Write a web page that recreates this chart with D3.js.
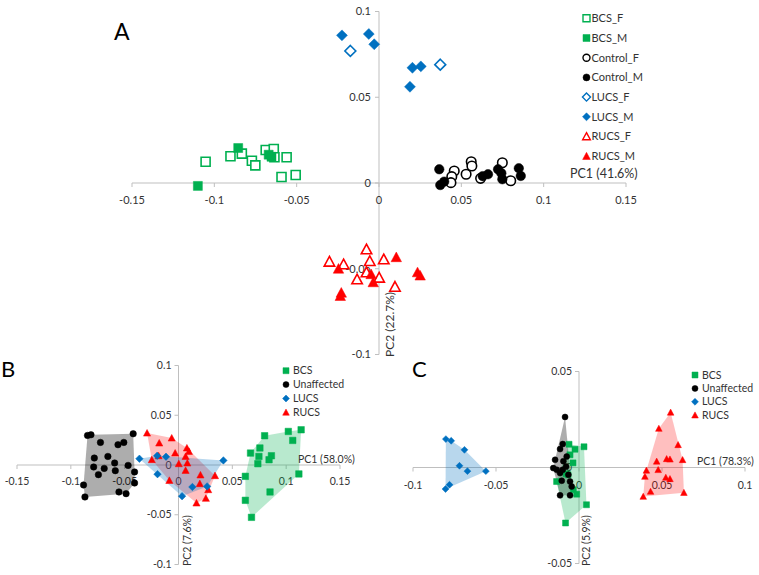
<!DOCTYPE html>
<html><head><meta charset="utf-8">
<script src="https://cdn.jsdelivr.net/npm/d3@7"></script>
<style>body{margin:0;background:#fff}svg{display:block;font-family:Lato,"Open Sans",sans-serif}</style>
</head><body><svg id="c" width="759" height="575"></svg>
<script>
// ---------- Panel A data (PC1, PC2) ----------
const A_BCS_F = [[-0.1053,0.0124],[-0.0902,0.0156],[-0.0833,0.0171],[-0.0772,0.0130],[-0.0751,0.0103],[-0.0688,0.0192],[-0.0639,0.0198],[-0.0635,0.0150],[-0.0561,0.0150],[-0.0592,0.0035],[-0.0506,0.0047]];
const A_BCS_M = [[-0.0855,0.0204],[-0.0653,0.0153],[-0.0670,0.0165],[-0.1100,-0.0017]];
const A_Control_F = [[0.0457,0.0070],[0.0442,0.0037],[0.0437,0.0002],[0.0529,0.0051],[0.0560,0.0124],[0.0564,0.0099],[0.0617,0.0027],[0.0749,0.0118],[0.0800,0.0013]];
const A_Control_M = [[0.0366,0.0080],[0.0372,-0.0012],[0.0396,0.0008],[0.0662,0.0051],[0.0630,0.0040],[0.0723,0.0080],[0.0743,0.0057],[0.0749,0.0022],[0.0849,0.0086],[0.0861,0.0041]];
const A_LUCS_F = [[-0.0174,0.0770],[0.0372,0.0690]];
const A_LUCS_M = [[-0.0225,0.0861],[-0.0062,0.0869],[-0.0029,0.0809],[0.0203,0.0672],[0.0254,0.0680],[0.0188,0.0561]];
const A_RUCS_F = [[-0.0301,-0.0459],[-0.0215,-0.0474],[-0.0076,-0.0387],[-0.0056,-0.0455],[0.0029,-0.0445],[-0.0076,-0.0521],[-0.0133,-0.0562],[0.0001,-0.0552],[0.0097,-0.0605]];
const A_RUCS_M = [[-0.0246,-0.0500],[0.0105,-0.0433],[-0.0048,-0.0532],[-0.0035,-0.0579],[0.0234,-0.0521],[0.0250,-0.0540],[-0.0229,-0.0640],[-0.0235,-0.0659]];
const A_series = ["BCS_F","BCS_M","Control_F","Control_M","LUCS_F","LUCS_M","RUCS_F","RUCS_M"];
const A_xTicks = [-0.15,-0.1,-0.05,0,0.05,0.1,0.15];
const A_yTicks = [-0.1,-0.05,0,0.05,0.1];

// ---------- Panel B data ----------
const B_BCS = [[0.0800,0.0294],[0.1020,0.0337],[0.1139,0.0354],[0.1061,0.0247],[0.0756,0.0171],[0.0669,0.0120],[0.0747,0.0086],[0.0863,0.0093],[0.0841,0.0053],[0.0737,0.0013],[0.0621,-0.0114],[0.1118,-0.0090],[0.0850,-0.0271],[0.0621,-0.0355],[0.0678,-0.0526]];
const B_Unaffected = [[-0.0845,0.0297],[-0.0813,0.0304],[-0.0725,0.0227],[-0.0562,0.0204],[-0.0508,0.0227],[-0.0421,0.0314],[-0.0782,0.0070],[-0.0656,0.0086],[-0.0788,-0.0020],[-0.0690,-0.0034],[-0.0593,0.0020],[-0.0587,-0.0057],[-0.0744,-0.0097],[-0.0468,-0.0004],[-0.0408,-0.0070],[-0.0408,-0.0181],[-0.0882,-0.0201],[-0.0869,-0.0321],[-0.0553,-0.0271],[-0.0487,-0.0288]];
const B_LUCS = [[-0.0363,0.0063],[-0.0195,-0.0092],[-0.0198,0.0093],[-0.0116,0.0083],[0.0033,-0.0313],[0.0129,-0.0221],[0.0266,-0.0215],[0.0417,0.0046]];
const B_RUCS = [[-0.0292,0.0321],[-0.0063,0.0271],[-0.0179,0.0221],[0.0078,0.0171],[0.0097,0.0137],[-0.0031,0.0120],[-0.0185,0.0093],[-0.0248,0.0053],[0.0066,0.0086],[0.0003,0.0013],[0.0082,0.0020],[0.0066,-0.0054],[-0.0085,-0.0155],[0.0204,-0.0100],[0.0198,-0.0187],[0.0339,-0.0107],[0.0276,-0.0248],[0.0167,-0.0382],[0.0254,-0.0335]];
const B_series = ["BCS","Unaffected","LUCS","RUCS"];
const B_xTicks = [-0.15,-0.1,-0.05,0,0.05,0.1,0.15];
const B_yTicks = [-0.1,-0.05,0,0.05,0.1];

// ---------- Panel C data ----------
const C_BCS = [[-0.0060,0.0121],[-0.0024,0.0095],[0.0030,0.0108],[-0.0036,0.0024],[-0.0054,0.0066],[-0.0135,-0.0073],[-0.0066,-0.0038],[-0.0034,-0.0116],[-0.0014,-0.0139],[0.0045,-0.0194],[-0.0081,-0.0289],[-0.0078,-0.0033]];
const C_Unaffected = [[-0.0084,0.0263],[-0.0098,0.0122],[-0.0114,0.0096],[-0.0074,0.0057],[-0.0144,0.0040],[-0.0094,0.0033],[-0.0155,-0.0003],[-0.0134,-0.0012],[-0.0098,-0.0012],[-0.0078,0.0005],[-0.0114,-0.0029],[-0.0064,-0.0038],[-0.0104,-0.0069],[-0.0054,-0.0073],[-0.0044,-0.0099],[-0.0114,-0.0145],[-0.0054,-0.0145]];
const C_LUCS = [[-0.0802,0.0148],[-0.0770,0.0139],[-0.0690,0.0092],[-0.0720,0.0009],[-0.0672,-0.0019],[-0.0561,-0.0019],[-0.0780,-0.0090],[-0.0804,-0.0112]];
const C_RUCS = [[0.0552,0.0287],[0.0481,0.0203],[0.0597,0.0118],[0.0528,0.0045],[0.0548,0.0043],[0.0624,0.0040],[0.0468,0.0032],[0.0406,-0.0015],[0.0477,-0.0012],[0.0397,-0.0047],[0.0523,-0.0052],[0.0548,-0.0059],[0.0431,-0.0125],[0.0387,-0.0151],[0.0632,-0.0131]];
const C_series = ["BCS","Unaffected","LUCS","RUCS"];
const C_xTicks = [-0.1,-0.05,0,0.05,0.1];
const C_yTicks = [-0.05,0,0.05];

// ---------- styling ----------
const GREEN="#00B050", BLUE="#0070C0", RED="#FF0000", BLACK="#000000";
const AXIS="#BFBFBF", TXT="#333333";

function shape(kind, s){
  const h=s/2;
  if(kind==="square") return `M${-h},${-h}H${h}V${h}H${-h}Z`;
  if(kind==="diamond"){const d=h*1.15;return `M0,${-d}L${d},0L0,${d}L${-d},0Z`;}
  if(kind==="triangle"){const d=h*1.1;return `M0,${-d}L${d},${d*0.85}L${-d},${d*0.85}Z`;}
  return d3.arc()({innerRadius:0,outerRadius:h,startAngle:0,endAngle:2*Math.PI});
}
const fmt=v=>String(+v.toFixed(2));
const svg=d3.select("#c");

function drawAxes(g,x,y,xt,yt,fs,xOff,yOff){
  const x0=x(0), y0=y(0);
  g.append("line").attr("x1",x(xt[0])).attr("x2",x(xt[xt.length-1])).attr("y1",y0).attr("y2",y0).attr("stroke",AXIS);
  g.append("line").attr("x1",x0).attr("x2",x0).attr("y1",y(yt[0])).attr("y2",y(yt[yt.length-1])).attr("stroke",AXIS);
  xt.forEach(v=>{
    g.append("line").attr("x1",x(v)).attr("x2",x(v)).attr("y1",y0).attr("y2",y0+4).attr("stroke",AXIS);
    g.append("text").attr("x",x(v)).attr("y",y0+xOff).attr("text-anchor","middle").attr("font-size",fs).attr("fill",TXT).text(fmt(v));
  });
  yt.forEach(v=>{
    g.append("line").attr("x1",x0-4).attr("x2",x0).attr("y1",y(v)).attr("y2",y(v)).attr("stroke",AXIS);
    g.append("text").attr("x",x0-yOff).attr("y",y(v)).attr("dy","0.35em").attr("text-anchor","end").attr("font-size",fs).attr("fill",TXT).text(fmt(v));
  });
}
function drawPts(g,x,y,data,kind,size,color,open){
  g.selectAll(null).data(data).enter().append("path")
   .attr("d",shape(kind,size))
   .attr("transform",d=>`translate(${x(d[0])},${y(d[1])})`)
   .attr("fill",open?"#fff":color).attr("stroke",color).attr("stroke-width",open?1.6:0.5);
}
function drawHull(g,x,y,data,color,op){
  const hull=d3.polygonHull(data.map(d=>[x(d[0]),y(d[1])]));
  g.append("path").attr("d","M"+hull.join("L")+"Z").attr("fill",color).attr("fill-opacity",op);
}
function legend(g,x0,y0,dy,items,size,fs,tx){
  items.forEach((it,i)=>{
    g.append("path").attr("d",shape(it.kind,size)).attr("transform",`translate(${x0},${y0+i*dy})`)
     .attr("fill",it.open?"#fff":it.color).attr("stroke",it.color).attr("stroke-width",it.open?1.4:0.5);
    g.append("text").attr("x",x0+tx).attr("y",y0+i*dy).attr("dy","0.35em").attr("font-size",fs).attr("fill",TXT).text(it.name);
  });
}

// ---------- Panel A ----------
{
  const g=svg.append("g");
  const x=d3.scaleLinear().domain([-0.15,0.15]).range([132,626]);
  const y=d3.scaleLinear().domain([-0.1,0.1]).range([354.5,11.5]);
  drawAxes(g,x,y,A_xTicks,A_yTicks,11,21,8);
  const spec={
    BCS_F:{d:A_BCS_F,kind:"square",color:GREEN,open:true},
    BCS_M:{d:A_BCS_M,kind:"square",color:GREEN,open:false},
    Control_F:{d:A_Control_F,kind:"circle",color:BLACK,open:true},
    Control_M:{d:A_Control_M,kind:"circle",color:BLACK,open:false},
    LUCS_F:{d:A_LUCS_F,kind:"diamond",color:BLUE,open:true},
    LUCS_M:{d:A_LUCS_M,kind:"diamond",color:BLUE,open:false},
    RUCS_F:{d:A_RUCS_F,kind:"triangle",color:RED,open:true},
    RUCS_M:{d:A_RUCS_M,kind:"triangle",color:RED,open:false}};
  A_series.forEach(n=>{const s=spec[n];drawPts(g,x,y,s.d,s.kind,s.kind==="square"?9:9.5,s.color,s.open);});
  legend(g,586.5,18.3,19.7,A_series.map(n=>({name:n,kind:spec[n].kind,color:spec[n].color,open:spec[n].open})),7,11,5);
  g.append("text").attr("x",570).attr("y",178).attr("font-size",12.5).attr("fill",TXT).text("PC1 (41.6%)");
  g.append("text").attr("transform","translate(394,357) rotate(-90)").attr("font-size",12).attr("fill",TXT).text("PC2 (22.7%)");
  g.append("text").attr("x",114).attr("y",40).attr("font-size",23).attr("fill","#000").text("A");
}

// ---------- Panel B / C ----------
function panel(cfg){
  const g=svg.append("g");
  const x=d3.scaleLinear().domain(cfg.xd).range(cfg.xr);
  const y=d3.scaleLinear().domain(cfg.yd).range(cfg.yr);
  const grp={BCS:{d:cfg.data.BCS,kind:"square",color:GREEN},
             Unaffected:{d:cfg.data.Unaffected,kind:"circle",color:BLACK},
             LUCS:{d:cfg.data.LUCS,kind:"diamond",color:BLUE},
             RUCS:{d:cfg.data.RUCS,kind:"triangle",color:RED}};
  drawAxes(g,x,y,cfg.xt,cfg.yt,10.5,cfg.xOff,7);
  drawHull(g,x,y,grp.Unaffected.d,"#000",0.32);
  drawHull(g,x,y,grp.BCS.d,GREEN,0.28);
  drawHull(g,x,y,grp.RUCS.d,RED,0.25);
  drawHull(g,x,y,grp.LUCS.d,BLUE,0.28);
  cfg.order.forEach(n=>{const s=grp[n];drawPts(g,x,y,s.d,s.kind,cfg.ms,s.color,false);});
  legend(g,cfg.lx,cfg.ly,cfg.ldy,cfg.series.map(n=>({name:n,kind:grp[n].kind,color:grp[n].color})),6,10.5,7);
  g.append("text").attr("x",cfg.pc1[0]).attr("y",cfg.pc1[1]).attr("font-size",10.5).attr("fill",TXT).text(cfg.pc1[2]);
  g.append("text").attr("transform",`translate(${cfg.pc2[0]},${cfg.pc2[1]}) rotate(-90)`).attr("font-size",10.5).attr("fill",TXT).text(cfg.pc2[2]);
  g.append("text").attr("x",cfg.lab[0]).attr("y",cfg.lab[1]).attr("font-size",22).attr("fill","#000").text(cfg.lab[2]);
}
panel({xd:[-0.15,0.15],xr:[17,340],yd:[-0.1,0.1],yr:[564.5,365.5],xt:B_xTicks,yt:B_yTicks,xOff:20,
  data:{BCS:B_BCS,Unaffected:B_Unaffected,LUCS:B_LUCS,RUCS:B_RUCS},order:["Unaffected","BCS","RUCS","LUCS"],series:B_series,ms:6.5,
  lx:286,ly:370.7,ldy:13.9,pc1:[298,463,"PC1 (58.0%)"],pc2:[191,566,"PC2 (7.6%)"],lab:[1,377,"B"]});
panel({xd:[-0.1,0.1],xr:[413,745],yd:[-0.05,0.05],yr:[563.5,371.5],xt:C_xTicks,yt:C_yTicks,xOff:21,
  data:{BCS:C_BCS,Unaffected:C_Unaffected,LUCS:C_LUCS,RUCS:C_RUCS},order:["BCS","Unaffected","LUCS","RUCS"],series:C_series,ms:6,
  lx:695,ly:375,ldy:13.4,pc1:[697,465,"PC1 (78.3%)"],pc2:[590,566,"PC2 (5.9%)"],lab:[412,377,"C"]});
</script></body></html>
